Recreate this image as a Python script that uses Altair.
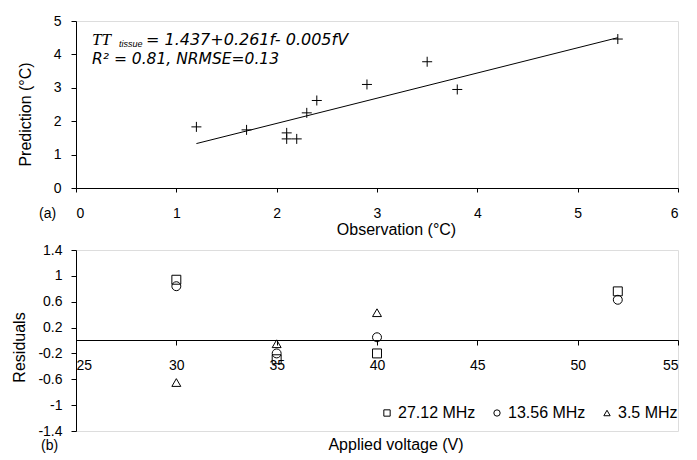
import altair as alt
import pandas as pd

# ---- panel (a) data ----
obs = [1.2, 1.7, 2.1, 2.1, 2.2, 2.3, 2.4, 2.9, 3.5, 3.8, 5.4]
pred = [1.83, 1.74, 1.65, 1.47, 1.47, 2.25, 2.62, 3.1, 3.78, 2.95, 4.46]
fit_x = [1.2, 5.4]
fit_y = [1.33, 4.5]

# ---- panel (b) data ----
series_names = ["27.12 MHz", "13.56 MHz", "3.5 MHz"]
volt_27 = [30, 35, 40, 52]
res_27 = [0.94, -0.29, -0.2, 0.76]
volt_13 = [30, 35, 40, 52]
res_13 = [0.84, -0.2, 0.05, 0.63]
volt_35 = [30, 35, 40]
res_35 = [-0.65, -0.05, 0.43]

x_ticks_a = [0, 1, 2, 3, 4, 5, 6]
y_ticks_a = [0, 1, 2, 3, 4, 5]
x_ticks_b = [25, 30, 35, 40, 45, 50, 55]
y_ticks_b = [-1.4, -1, -0.6, -0.2, 0.2, 0.6, 1, 1.4]

FONT = "Liberation Sans"
W = 602
HA = 167
HB = 181

df_a = pd.DataFrame({"obs": obs, "pred": pred})
df_fit = pd.DataFrame({"obs": fit_x, "pred": fit_y})

rows = []
for name, vs, rs in [(series_names[0], volt_27, res_27),
                     (series_names[1], volt_13, res_13),
                     (series_names[2], volt_35, res_35)]:
    for v, r in zip(vs, rs):
        rows.append({"voltage": v, "residual": r, "series": name})
df_b = pd.DataFrame(rows)

common_axis = dict(grid=False, labelFontSize=14, titleFontSize=16, titleFontWeight="normal",
                   domainColor="black", tickColor="black", labelColor="black",
                   titleColor="black", labelOverlap=False, labelFont=FONT, titleFont=FONT,
                   labelExpr="'' + datum.value")

xa = alt.X("obs:Q", scale=alt.Scale(domain=[0, 6], nice=False),
           axis=alt.Axis(values=x_ticks_a, title="Observation (°C)",
                         tickSize=4, labelPadding=14, titlePadding=1, titleX=320,
                         **common_axis))
ya = alt.Y("pred:Q", scale=alt.Scale(domain=[0, 5], nice=False),
           axis=alt.Axis(values=y_ticks_a, title="Prediction (°C)",
                         tickSize=5, labelPadding=10, titlePadding=20, titleY=93,
                         **common_axis))

pts_a = alt.Chart(df_a).mark_point(
    shape="M-1,0L1,0M0,-1L0,1", size=100, filled=False, color="black",
    strokeWidth=1, opacity=1
).encode(x=xa, y=ya)

fit_line = alt.Chart(df_fit).mark_line(color="black", strokeWidth=1).encode(x=xa, y=ya)

one = pd.DataFrame({"t": ["x"]})
EQF = "DejaVu Sans"
eq_tt = alt.Chart(one).mark_text(
    text="TT", font="Liberation Serif", fontStyle="italic", fontSize=17,
    align="left", baseline="alphabetic", color="black"
).encode(x=alt.value(16), y=alt.value(24))
eq_sub = alt.Chart(one).mark_text(
    text="tissue", font=FONT, fontStyle="italic", fontSize=9,
    align="left", baseline="alphabetic", color="black"
).encode(x=alt.value(43), y=alt.value(26))
eq_main = alt.Chart(one).mark_text(
    text="= 1.437+0.261f- 0.005fV", font=EQF, fontStyle="italic", fontSize=16,
    align="left", baseline="alphabetic", color="black"
).encode(x=alt.value(70), y=alt.value(24))
eq_r2 = alt.Chart(one).mark_text(
    text="R² = 0.81, NRMSE=0.13", font=EQF, fontStyle="italic", fontSize=15.5,
    align="left", baseline="alphabetic", color="black"
).encode(x=alt.value(16), y=alt.value(43))
lab_a = alt.Chart(one).mark_text(
    text="(a)", font=FONT, fontSize=14, align="left", baseline="middle", color="black"
).encode(x=alt.value(-37), y=alt.value(193))

top = alt.layer(pts_a, fit_line, eq_tt, eq_sub, eq_main, eq_r2, lab_a).properties(
    width=W, height=HA)

xb = alt.X("voltage:Q", scale=alt.Scale(domain=[25, 55], nice=False),
           axis=alt.Axis(values=x_ticks_b, title=None, offset=-91,
                         tickSize=5, labelPadding=13, **common_axis))
yb = alt.Y("residual:Q", scale=alt.Scale(domain=[-1.4, 1.4], nice=False),
           axis=alt.Axis(values=y_ticks_b, title="Residuals",
                         tickSize=5, labelPadding=9, titlePadding=10, titleY=97,
                         **common_axis))

pts_b = alt.Chart(df_b).mark_point(
    filled=False, color="black", strokeWidth=1, opacity=1, size=80
).encode(
    x=xb, y=yb,
    shape=alt.Shape("series:N",
                    scale=alt.Scale(domain=series_names,
                                    range=["square", "circle", "triangle-up"]),
                    legend=alt.Legend(title=None, orient="none", legendX=303, legendY=155,
                                      direction="horizontal", labelFontSize=16,
                                      labelFont=FONT, labelColor="black",
                                      symbolSize=40, symbolStrokeColor="black",
                                      symbolStrokeWidth=1, columnPadding=13,
                                      labelOffset=3, padding=0)),
)

xlab_b = alt.Chart(one).mark_text(
    text="Applied voltage (V)", font=FONT, fontSize=16, align="center",
    baseline="middle", color="black"
).encode(x=alt.value(320), y=alt.value(195))
lab_b = alt.Chart(one).mark_text(
    text="(b)", font=FONT, fontSize=14, align="left", baseline="middle", color="black"
).encode(x=alt.value(-35), y=alt.value(196))

bottom = alt.layer(pts_b, xlab_b, lab_b).properties(width=W, height=HB)

chart = alt.vconcat(top, bottom, spacing=4).resolve_legend(shape="independent").properties(
    padding={"left": 3, "top": 5, "right": 0, "bottom": 0}
).configure_view(stroke="#a6a6a6", strokeWidth=1).configure(font=FONT, background="white")

chart.save("out.html", embed_options={"renderer": "svg", "actions": False})
